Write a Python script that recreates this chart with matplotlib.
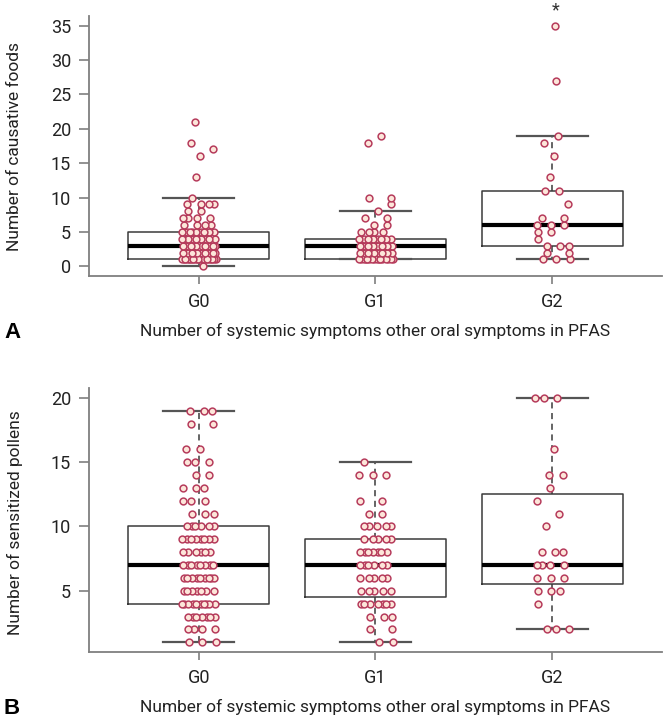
import matplotlib.pyplot as plt
import numpy as np

plt.rcParams['font.family'] = ['Roboto', 'DejaVu Sans']

groups = ['G0', 'G1', 'G2']
xlabel = 'Number of systemic symptoms other oral symptoms in PFAS'

# Panel A - number of causative foods (value, number of patients with it)
foods_g0_val = [0, 1, 2, 3, 4, 5, 6, 7, 8, 9, 10, 13, 16, 17, 18, 21]
foods_g0_n = [1, 21, 10, 11, 9, 12, 4, 4, 2, 4, 1, 1, 1, 1, 1, 1]
foods_g1_val = [1, 2, 3, 4, 5, 6, 7, 8, 9, 10, 18, 19]
foods_g1_n = [16, 9, 10, 11, 4, 2, 2, 1, 1, 2, 1, 1]
foods_g2_val = [1, 2, 3, 4, 5, 6, 7, 9, 11, 13, 16, 18, 19, 27, 35]
foods_g2_n = [3, 2, 3, 1, 2, 3, 2, 1, 2, 1, 1, 1, 1, 1, 1]

# Panel B - number of sensitized pollens
pollen_g0_val = [1, 2, 3, 4, 5, 6, 7, 8, 9, 10, 11, 12, 13, 14, 15, 16, 18, 19]
pollen_g0_n = [3, 4, 7, 10, 7, 9, 8, 6, 8, 6, 3, 3, 3, 2, 3, 2, 2, 3]
pollen_g1_val = [1, 2, 3, 4, 5, 6, 7, 8, 9, 10, 11, 12, 14, 15]
pollen_g1_n = [2, 2, 3, 7, 5, 5, 6, 7, 5, 5, 2, 2, 3, 1]
pollen_g2_val = [2, 4, 5, 6, 7, 8, 10, 11, 12, 13, 14, 16, 20]
pollen_g2_n = [3, 1, 3, 3, 4, 3, 1, 1, 1, 1, 2, 1, 3]

foods = [np.repeat(foods_g0_val, foods_g0_n),
         np.repeat(foods_g1_val, foods_g1_n),
         np.repeat(foods_g2_val, foods_g2_n)]
pollens = [np.repeat(pollen_g0_val, pollen_g0_n),
           np.repeat(pollen_g1_val, pollen_g1_n),
           np.repeat(pollen_g2_val, pollen_g2_n)]

fig = plt.figure(figsize=(6.68, 7.24), dpi=100)
axA = fig.add_axes([0.1332, 0.6188, 0.8578, 0.3591])
axB = fig.add_axes([0.1332, 0.0994, 0.8578, 0.3647])

gray = '#7f7f7f'


def panel(ax, data, ylim, yticks):
    ax.boxplot(data, positions=[1, 2, 3], widths=0.8, showfliers=False,
               boxprops=dict(color='#3a3a3a', lw=1.1),
               medianprops=dict(color='black', lw=3),
               whiskerprops=dict(color='#3a3a3a', lw=1.1, ls=(0, (4, 3))),
               capprops=dict(color='#555555', lw=1.6),
               capwidths=0.4, zorder=2)
    # stripchart-like spread of the points around each group
    for i, vals in enumerate(data):
        xs = np.zeros(len(vals))
        for v in np.unique(vals):
            idx = np.where(vals == v)[0]
            k = np.arange(len(idx))
            xs[idx] = (((k + 1) * 0.618 + v * 0.37) % 1 - 0.5) * 0.2
        ax.scatter(i + 1 + xs, vals, s=24, facecolor='#fde6da',
                   edgecolor='#b63c5c', lw=1.1, zorder=3)
    ax.set_xlim(0.38, 3.62)
    ax.set_ylim(*ylim)
    ax.set_yticks(yticks)
    ax.set_xticks([1, 2, 3])
    ax.set_xticklabels(groups)
    for s in ['top', 'right']:
        ax.spines[s].set_visible(False)
    for s in ['left', 'bottom']:
        ax.spines[s].set_color(gray)
        ax.spines[s].set_linewidth(1.3)
    ax.tick_params(axis='y', length=7, width=1.2, color=gray, pad=6,
                   labelsize=13, labelcolor='#222222')
    ax.tick_params(axis='x', length=6, width=1.2, color=gray, pad=6,
                   labelsize=13, labelcolor='#222222')


panel(axA, foods, (-1.4, 36.4), range(0, 36, 5))
panel(axB, pollens, (0.24, 20.76), [5, 10, 15, 20])

axA.text(3.02, 37.2, '*', ha='center', va='center', fontsize=13,
         color='#333333', clip_on=False)

fig.text(0.022, 0.798, 'Number of causative foods', rotation=90,
         ha='center', va='center', fontsize=12.5, color='#222222')
fig.text(0.022, 0.278, 'Number of sensitized pollens', rotation=90,
         ha='center', va='center', fontsize=12.5, color='#222222')
fig.text(0.5614, 0.543, xlabel, ha='center', va='center', fontsize=12.5,
         color='#222222')
fig.text(0.5614, 0.024, xlabel, ha='center', va='center', fontsize=12.5,
         color='#222222')
fig.text(0.018, 0.541, 'A', ha='center', va='center', fontsize=16,
         fontweight='bold', family=['Liberation Sans', 'DejaVu Sans'])
fig.text(0.018, 0.021, 'B', ha='center', va='center', fontsize=16,
         fontweight='bold', family=['Liberation Sans', 'DejaVu Sans'])

fig.savefig('out.png', dpi=100)
